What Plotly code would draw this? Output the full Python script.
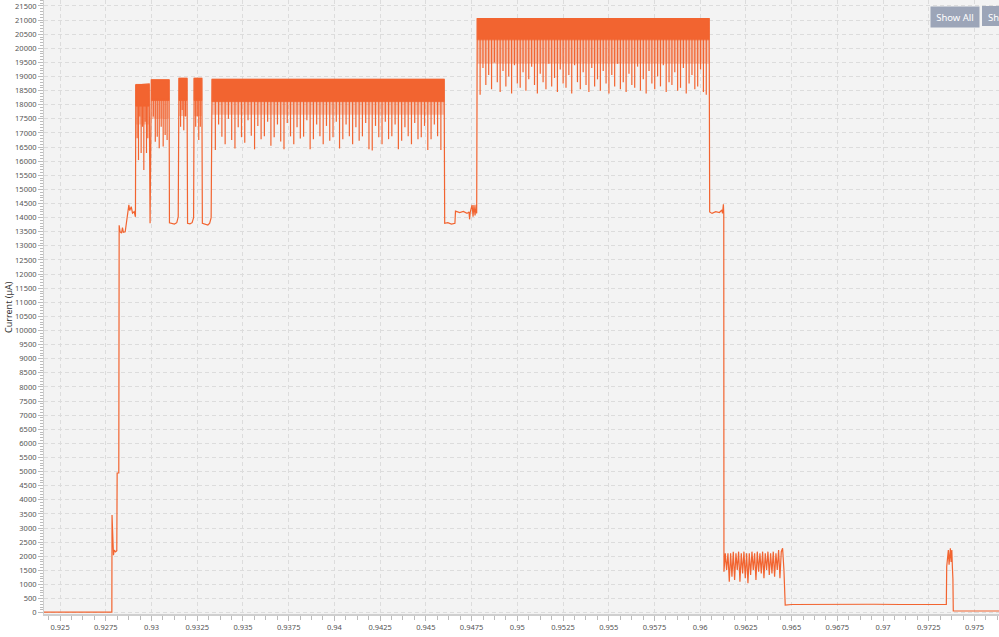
import numpy as np
import plotly.graph_objects as go

ORANGE = "#F26430"
HAZE = "rgba(242,100,48,0.35)"

# ---------------- data (time in s, current in µA) ----------------
pre_t = [0.92412, 0.92783, 0.92784, 0.92792, 0.92796, 0.92803, 0.92810, 0.92812, 0.92821, 0.92823,
         0.92828, 0.92836, 0.92841, 0.92846, 0.92856, 0.92863, 0.92868, 0.92876, 0.92881, 0.92889,
         0.92896, 0.92905, 0.92912,
         0.92914, 0.92987, 0.92992, 0.92999, 0.93096, 0.93098, 0.93110, 0.93125, 0.93138, 0.93146,
         0.93150, 0.93194, 0.93197, 0.93210, 0.93222, 0.93230, 0.93233, 0.93275, 0.93278, 0.93292,
         0.93308, 0.93318, 0.93326, 0.93331, 0.94600, 0.94603, 0.94620, 0.94640, 0.94659, 0.94662,
         0.94685, 0.94705, 0.94725, 0.94736, 0.94739, 0.94743, 0.94753, 0.94758, 0.94763, 0.94769,
         0.94775, 0.94778, 0.94781, 0.96049, 0.96052, 0.96065, 0.96085, 0.96105, 0.96115, 0.96119,
         0.96122, 0.96125, 0.96127, 0.96129]
pre_i = [20, 20, 3460, 2040, 2220, 2160, 2200, 4950, 4950, 13730,
         13500, 13450, 13650, 13480, 13500, 13900, 14090, 14450, 14250, 14390,
         14160, 14210, 14030,
         18700, 18736, 13800, 18880, 18880, 13820, 13800, 13770, 13820, 14030,
         18937, 18937, 13800, 13780, 13820, 14000, 18937, 18937, 13800, 13760,
         13740, 13800, 14000, 18900, 18900, 13800, 13820, 13770, 13800, 14230,
         14180, 14220, 14150, 14200, 13940, 14200, 14450, 14030, 14450, 14080,
         14450, 14150, 21050, 21050, 14200, 14150, 14210, 14180, 14240, 14270,
         14150, 14300, 14470, 14150]

noise_t0, noise_t1 = 0.96130, 0.96458
noise_i = [1450, 2104, 1513, 2104, 1100, 2104, 1277, 2163, 1159, 2104, 1513, 2163, 1100, 2104, 1395,
           2163, 1218, 2104, 1041, 2104, 1336, 2163, 1513, 2104, 1159, 2163, 1454, 2104, 1395, 2163,
           1218, 2104, 1513, 2163, 1336, 2104, 1395, 2163, 1277, 2104, 1513, 2222, 1218, 2163, 2281, 1513]

post_t = [0.96465, 0.96500, 0.96650, 0.96800, 0.96950, 0.97100, 0.97250, 0.97346, 0.97348, 0.97353,
          0.97357, 0.97361, 0.97364, 0.97368, 0.97372, 0.97376, 0.97379, 0.97382, 0.97384, 0.97634]
post_i = [273, 290, 300, 285, 300, 290, 300, 295, 1630, 2150,
          2222, 1700, 2163, 2281, 1800, 2222, 1631, 1200, 60, 60]

# dense burst bands (fast oscillation rendered as envelope + dips)
band_start = [0.92914, 0.92999, 0.93150, 0.93233, 0.93331, 0.94781]
band_end = [0.92987, 0.93096, 0.93194, 0.93275, 0.94600, 0.96049]
band_top = [18720, 18880, 18937, 18937, 18900, 21050]
band_floor = [17950, 18150, 18150, 18150, 18110, 20300]
band_haze = [17300, 17500, 17600, 17600, 17650, 19450]
dips_a = [16810, 16040, 17580, 16290, 17220, 15690, 17400, 16290, 16810]
dips_b = [17580, 16690, 16870, 16460, 17220, 16520, 16930, 16750]
dips_c = [17220, 17810, 17100, 17580]
dips_d = [17220, 17580, 16750, 17220]
dips_e = [16400, 17300, 16870, 16600, 17500, 16750, 16450, 17200, 16850, 16650, 17450, 16900, 16420,
          17250, 16780, 16880, 17400, 16550, 16850, 17300, 16700, 16420, 17350, 16880, 16600, 17200,
          16800, 16870, 17450, 16420, 16780, 17300, 16880, 16600, 17250, 16720, 16850, 17400, 16450,
          16780, 17300, 16880, 16600, 17200, 16720, 16880, 17350, 16420, 16380, 17250, 16850, 16600,
          17400, 16780, 16880, 17300, 16420, 16720, 17200, 16880, 16600, 17350, 16780, 16850, 17250,
          16400, 16780, 17300, 16880, 16400]
dips_f = [18350, 19300, 18700, 19050, 18550, 19500, 18800, 18450, 19200, 18650, 19000, 18400, 19400,
          18750, 18600, 19150, 18500, 18900, 19350, 18700, 18400, 19100, 18800, 18550, 19450, 18650,
          18950, 18450, 19250, 18750, 18600, 19050, 18400, 19400, 18800, 18550, 19150, 18700, 18450,
          19300, 18650, 18900, 18500, 19200, 18750, 18400, 19050, 18650, 19450, 18550, 18800, 18450,
          19100, 18700, 18600, 19350, 18500, 18900, 18400, 19200, 18750, 18550, 19000, 18650, 19400,
          18450, 18800, 18700, 19150, 18500, 18600, 19300, 18400, 18750, 19050, 18550, 18650, 19250,
          18450, 18350]
band_dips = [dips_a, dips_b, dips_c, dips_d, dips_e, dips_f]

x_tickvals = [0.925, 0.9275, 0.93, 0.9325, 0.935, 0.9375, 0.94, 0.9425, 0.945, 0.9475, 0.95,
              0.9525, 0.955, 0.9575, 0.96, 0.9625, 0.965, 0.9675, 0.97, 0.9725, 0.975]
x_ticktext = ["0.925", "0.9275", "0.93", "0.9325", "0.935", "0.9375", "0.94", "0.9425", "0.945",
              "0.9475", "0.95", "0.9525", "0.955", "0.9575", "0.96", "0.9625", "0.965", "0.9675",
              "0.97", "0.9725", "0.975"]

# ---------------- figure ----------------
fig = go.Figure()

for s, e, top, floor, haze, dips in zip(band_start, band_end, band_top, band_floor,
                                        band_haze, band_dips):
    fig.add_trace(go.Scatter(x=[s, s, e, e, s], y=[haze, floor, floor, haze, haze],
                             mode="lines", fill="toself", fillcolor=HAZE,
                             line=dict(width=0), hoverinfo="skip"))
    fig.add_trace(go.Scatter(x=[s, s, e, e, s], y=[floor, top, top, floor, floor],
                             mode="lines", fill="toself", fillcolor=ORANGE,
                             line=dict(width=0.8, color=ORANGE), hoverinfo="skip"))
    pos = np.linspace(s, e, len(dips) + 2)[1:-1]
    sx, sy = [], []
    for p, d in zip(pos, dips):
        sx += [p, p, None]
        sy += [floor + 60, d, None]
    fig.add_trace(go.Scatter(x=sx, y=sy, mode="lines",
                             line=dict(width=1.2, color=ORANGE), hoverinfo="skip"))

noise_t = list(np.linspace(noise_t0, noise_t1, len(noise_i)))
all_t = pre_t + noise_t + post_t
all_i = pre_i + noise_i + post_i
fig.add_trace(go.Scatter(x=all_t, y=all_i, mode="lines",
                         line=dict(width=1.2, color=ORANGE)))

FONT = "Noto Sans, Open Sans, sans-serif"
tickfont = dict(family=FONT, size=7.5, color="#555555")

fig.update_layout(
    width=999, height=637,
    margin=dict(l=44, r=0, t=0, b=23),
    paper_bgcolor="white",
    plot_bgcolor="#F3F3F3",
    showlegend=False,
    xaxis=dict(
        range=[0.92412, 0.97634], automargin=False,
        tickmode="array", tickvals=x_tickvals, ticktext=x_ticktext,
        tickfont=tickfont,
        showgrid=True, gridcolor="#DCDCDC", griddash="4px,3px", gridwidth=1,
        zeroline=False,
        showline=True, linecolor="#CFCFCF", linewidth=2,
        ticks="outside", ticklen=5, tickcolor="#BBBBBB",
        minor=dict(tickmode="linear", tick0=0.925, dtick=0.000625, ticks="outside",
                   ticklen=4, tickcolor="#BBBBBB", showgrid=False),
    ),
    yaxis=dict(
        range=[-46, 21712], automargin=False,
        tickmode="linear", tick0=0, dtick=500, tickformat="d",
        tickfont=tickfont,
        showgrid=True, gridcolor="#DCDCDC", griddash="4px,3px", gridwidth=1,
        zeroline=False,
        showline=True, linecolor="#CFCFCF", linewidth=1,
        ticks="outside", ticklen=5, tickcolor="#BBBBBB",
        minor=dict(dtick=100, ticks="outside", ticklen=3, tickcolor="#BBBBBB", showgrid=False),
    ),
    shapes=[
        dict(type="rect", xref="paper", yref="paper", xsizemode="pixel", ysizemode="pixel",
             xanchor=1, yanchor=1, x0=-17, x1=20, y0=-6, y1=-26,
             fillcolor="#9CA5B8", line=dict(width=0), layer="above"),
    ],
    annotations=[
        dict(text="Current (µA)", textangle=-90, xref="paper", yref="paper", x=0, y=0.5,
             xanchor="center", yanchor="middle", xshift=-36, showarrow=False,
             font=dict(family=FONT, size=9, color="#333333")),
        dict(text="Show All", xref="paper", yref="paper", x=1, y=1, xanchor="right",
             yanchor="top", xshift=-19, yshift=-6, showarrow=False, bgcolor="#9CA5B8",
             width=44, height=16, borderpad=2,
             font=dict(family=FONT, size=9.5, color="white")),
        dict(text="Sh", xref="paper", yref="paper", x=1, y=1, xanchor="left",
             yanchor="top", xshift=-14, yshift=-6, showarrow=False,
             height=16, borderpad=2, align="left",
             font=dict(family=FONT, size=9.5, color="white")),
    ],
)

fig.write_html("out.html", config={"displayModeBar": False},
               post_script="document.body.style.margin='0';document.body.style.padding='0';"
                           "document.body.style.overflow='hidden';")
